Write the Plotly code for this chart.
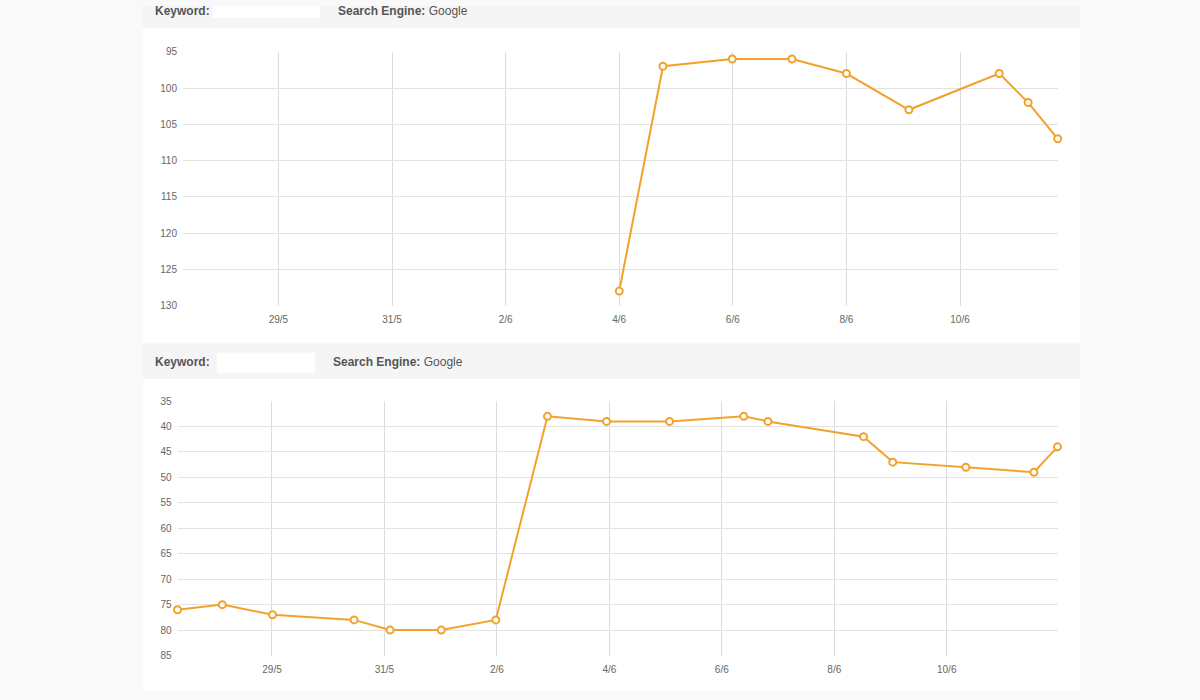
import plotly.graph_objects as go

# ---- data ----
top_dates = ["2017-06-04 00:00", "2017-06-04 18:29", "2017-06-05 23:46", "2017-06-07 01:00",
             "2017-06-08 00:00", "2017-06-09 02:24", "2017-06-10 16:34", "2017-06-11 04:48",
             "2017-06-11 17:17"]
top_rank = [128, 97, 96, 96, 98, 103, 98, 102, 107]

bottom_dates = ["2017-05-27 07:40", "2017-05-28 02:46", "2017-05-29 00:14", "2017-05-30 11:02",
                "2017-05-31 02:24", "2017-06-01 00:14", "2017-06-01 23:31", "2017-06-02 21:36",
                "2017-06-03 22:48", "2017-06-05 01:41", "2017-06-06 09:22", "2017-06-06 19:41",
                "2017-06-08 12:29", "2017-06-09 00:58", "2017-06-10 08:10", "2017-06-11 13:12",
                "2017-06-11 23:17"]
bottom_rank = [76, 75, 77, 78, 80, 80, 78, 38, 39, 39, 38, 39, 42, 47, 48, 49, 44]

top_range_x = ["2017-05-27 07:40", "2017-06-11 17:17"]
top_range_y = [130, 95]
bottom_range_y = [85, 35]
search_engine = "Google"

W, H = 1200, 700
def px(x):
    return x / W
def py(y):
    # map a target screen row to paper coords (compensates the capture offset/scale)
    yf = (y - 6.0) / 0.981
    return 1 - yf / H

ORANGE = "#F2A22C"
GRID = "#e2e2e2"
TXT = "#666666"
FONT = "Liberation Sans, Arial, Helvetica, sans-serif"

fig = go.Figure()
fig.add_trace(go.Scatter(x=top_dates, y=top_rank, mode="lines+markers", xaxis="x", yaxis="y",
                         line=dict(color=ORANGE, width=2),
                         marker=dict(symbol="circle", size=7, color="white",
                                     line=dict(color=ORANGE, width=2)),
                         showlegend=False, hoverinfo="x+y", cliponaxis=False))
fig.add_trace(go.Scatter(x=bottom_dates, y=bottom_rank, mode="lines+markers", xaxis="x2", yaxis="y2",
                         line=dict(color=ORANGE, width=2),
                         marker=dict(symbol="circle", size=7, color="white",
                                     line=dict(color=ORANGE, width=2)),
                         showlegend=False, hoverinfo="x+y", cliponaxis=False))

xcommon = dict(type="date", tick0="2017-05-29", dtick=2 * 86400000, tickformat="%-d/%-m",
               showgrid=True, gridcolor="#dcdcdc", gridwidth=1, zeroline=False, showline=False,
               ticks="", tickfont=dict(size=10, color=TXT, family=FONT), ticklabelstandoff=6)
ycommon = dict(dtick=5, showgrid=True, gridcolor=GRID, gridwidth=1, zeroline=False, showline=False,
               ticks="", tickfont=dict(size=10, color=TXT, family=FONT), ticklabelstandoff=5)

fig.update_layout(
    width=W, height=H,
    margin=dict(l=0, r=0, t=0, b=0),
    paper_bgcolor="#f9f9f9",
    plot_bgcolor="rgba(0,0,0,0)",
    xaxis=dict(domain=[px(183), px(1057.7)], range=top_range_x, anchor="y", **xcommon),
    yaxis=dict(domain=[py(305), py(51.7)], range=top_range_y, anchor="x", **ycommon),
    xaxis2=dict(domain=[px(177.5), px(1057.5)], range=[bottom_dates[0], bottom_dates[-1]],
                anchor="y2", **xcommon),
    yaxis2=dict(domain=[py(654.3), py(400.3)], range=bottom_range_y, anchor="x2", **ycommon),
    font=dict(family=FONT),
)

shapes = []
# white panels
for (y0, y1) in [(28, 342), (378, 690)]:
    shapes.append(dict(type="rect", xref="paper", yref="paper", x0=px(143), x1=px(1080),
                       y0=py(y1), y1=py(y0), fillcolor="white", line=dict(width=0), layer="below"))
# header strips
for (y0, y1) in [(0, 28), (342, 378)]:
    shapes.append(dict(type="rect", xref="paper", yref="paper", x0=px(143), x1=px(1080),
                       y0=py(y1), y1=min(1.0, py(y0)), fillcolor="#f5f5f5", line=dict(width=0),
                       layer="below"))
# redacted keyword areas
for (x0, x1, y0, y1) in [(213, 320, 3, 18), (217, 315, 352, 372)]:
    shapes.append(dict(type="rect", xref="paper", yref="paper", x0=px(x0), x1=px(x1),
                       y0=py(y1), y1=min(1.0, py(y0)), fillcolor="white", line=dict(width=0),
                       layer="below"))
fig.update_layout(shapes=shapes)

ann = []
for (ky, sx, yy) in [(153, 336, 11), (153, 331, 361)]:
    ann.append(dict(xref="paper", yref="paper", x=px(ky), y=py(yy), xanchor="left", yanchor="middle",
                    text="<b>Keyword:</b>", showarrow=False,
                    font=dict(size=12, color="#555555", family=FONT)))
    ann.append(dict(xref="paper", yref="paper", x=px(sx), y=py(yy), xanchor="left", yanchor="middle",
                    text="<b>Search Engine:</b> " + search_engine, showarrow=False,
                    font=dict(size=12, color="#555555", family=FONT)))
fig.update_layout(annotations=ann)

post = ("document.documentElement.style.margin='0';document.documentElement.style.overflow='hidden';"
        "document.body.style.margin='0';document.body.style.padding='0';document.body.style.overflow='hidden';"
        "document.body.style.background='#f5f5f5';"
        "var d=document.getElementById('{plot_id}');d.style.position='fixed';d.style.top='0px';d.style.left='0px';")
fig.write_html("out.html", config={"displayModeBar": False}, post_script=post)
